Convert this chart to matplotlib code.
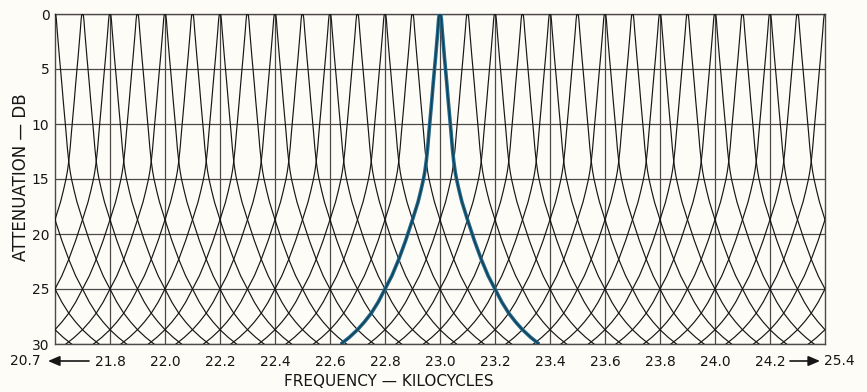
import numpy as np
import matplotlib
matplotlib.use("Agg")
import matplotlib.pyplot as plt

# Channel centre frequencies in kHz (a few neighbours beyond the frame are
# included so their skirts enter from the edges).
channel_centers = [21.3, 21.4, 21.5, 21.6, 21.7, 21.8, 21.9, 22.0, 22.1, 22.2,
                   22.3, 22.4, 22.5, 22.6, 22.7, 22.8, 22.9, 23.0, 23.1, 23.2,
                   23.3, 23.4, 23.5, 23.6, 23.7, 23.8, 23.9, 24.0, 24.1, 24.2,
                   24.3, 24.4, 24.5, 24.6, 24.7]
highlight_center = 23.0

# Single-channel response: offset from centre (kHz) against attenuation (dB)
offset_khz = [0.000, 0.003, 0.005, 0.008, 0.012, 0.016, 0.020, 0.025, 0.030,
              0.035, 0.040, 0.045, 0.050, 0.055, 0.060, 0.070, 0.080, 0.090,
              0.100, 0.125, 0.150, 0.175, 0.200, 0.225, 0.250, 0.275, 0.300,
              0.330, 0.360]
atten_db = [0.0, 0.1, 0.5, 1.5, 2.7, 3.9, 5.0, 6.4, 7.9,
            9.3, 10.7, 12.2, 13.4, 14.3, 15.0, 16.1, 17.1, 17.9,
            18.7, 20.6, 22.3, 23.8, 25.0, 26.2, 27.2, 28.0, 28.7,
            29.4, 30.0]

x_ticks = [21.8, 22.0, 22.2, 22.4, 22.6, 22.8, 23.0, 23.2, 23.4, 23.6, 23.8,
           24.0, 24.2]
x_tick_labels = ["21.8", "22.0", "22.2", "22.4", "22.6", "22.8", "23.0",
                 "23.2", "23.4", "23.6", "23.8", "24.0", "24.2"]
y_ticks = [0, 5, 10, 15, 20, 25, 30]
y_tick_labels = ["0", "5", "10", "15", "20", "25", "30"]
x_min, x_max = 21.6, 24.4
left_end_label = "20.7"
right_end_label = "25.4"

paper = "#fdfcf7"
ink = "#161616"
grid_ink = "#4f4848"
blue = "#23698b"

W, H = 867, 392
fig = plt.figure(figsize=(W / 100, H / 100), dpi=100, facecolor=paper)
ax = fig.add_axes([55 / W, (H - 344) / H, 770 / W, 330 / H], facecolor=paper)

off = np.array(offset_khz)
att = np.array(atten_db)
rel_x = np.concatenate([-off[::-1], off[1:]])
rel_y = np.concatenate([att[::-1], att[1:]])

for c in channel_centers:
    ax.plot(c + rel_x, rel_y, color=ink, lw=0.85, zorder=3)

ax.plot(highlight_center + rel_x, rel_y, color=blue, lw=2.6, zorder=4,
        solid_capstyle="butt", solid_joinstyle="round")
ax.plot(highlight_center + rel_x, rel_y, color="#103e55", lw=0.9, zorder=5)

ax.set_xlim(x_min, x_max)
ax.set_ylim(30, 0)
ax.set_xticks(x_ticks)
ax.set_xticklabels(x_tick_labels)
ax.set_yticks(y_ticks)
ax.set_yticklabels(y_tick_labels)
ax.tick_params(length=0, labelsize=10, colors=ink)
ax.tick_params(axis="x", pad=8)
ax.tick_params(axis="y", pad=4)
ax.grid(True, color=grid_ink, lw=0.9, zorder=1)
for s in ax.spines.values():
    s.set_color(grid_ink)
    s.set_linewidth(1.0)

# Broken-scale end labels with arrows
fig.text(25 / W, 1 - 361 / H, left_end_label, ha="center", va="center",
         fontsize=10, color=ink)
fig.text(839 / W, 1 - 361 / H, right_end_label, ha="center", va="center",
         fontsize=10, color=ink)
arrow_kw = dict(arrowstyle="-|>,head_length=0.7,head_width=0.3", color=ink,
                lw=1.2, shrinkA=0, shrinkB=0)
ax.annotate("", xy=(48, H - 361), xytext=(89, H - 361),
            xycoords="figure pixels", textcoords="figure pixels",
            arrowprops=arrow_kw)
ax.annotate("", xy=(820, H - 361), xytext=(790, H - 361),
            xycoords="figure pixels", textcoords="figure pixels",
            arrowprops=arrow_kw)

fig.text(21 / W, 1 - 177 / H, "ATTENUATION — DB", rotation=90,
         ha="center", va="center", fontsize=12, color=ink)
fig.text(389 / W, 1 - 382 / H, "FREQUENCY — KILOCYCLES", ha="center",
         va="center", fontsize=11, color=ink)

fig.savefig("out.png", dpi=100, facecolor=paper)
